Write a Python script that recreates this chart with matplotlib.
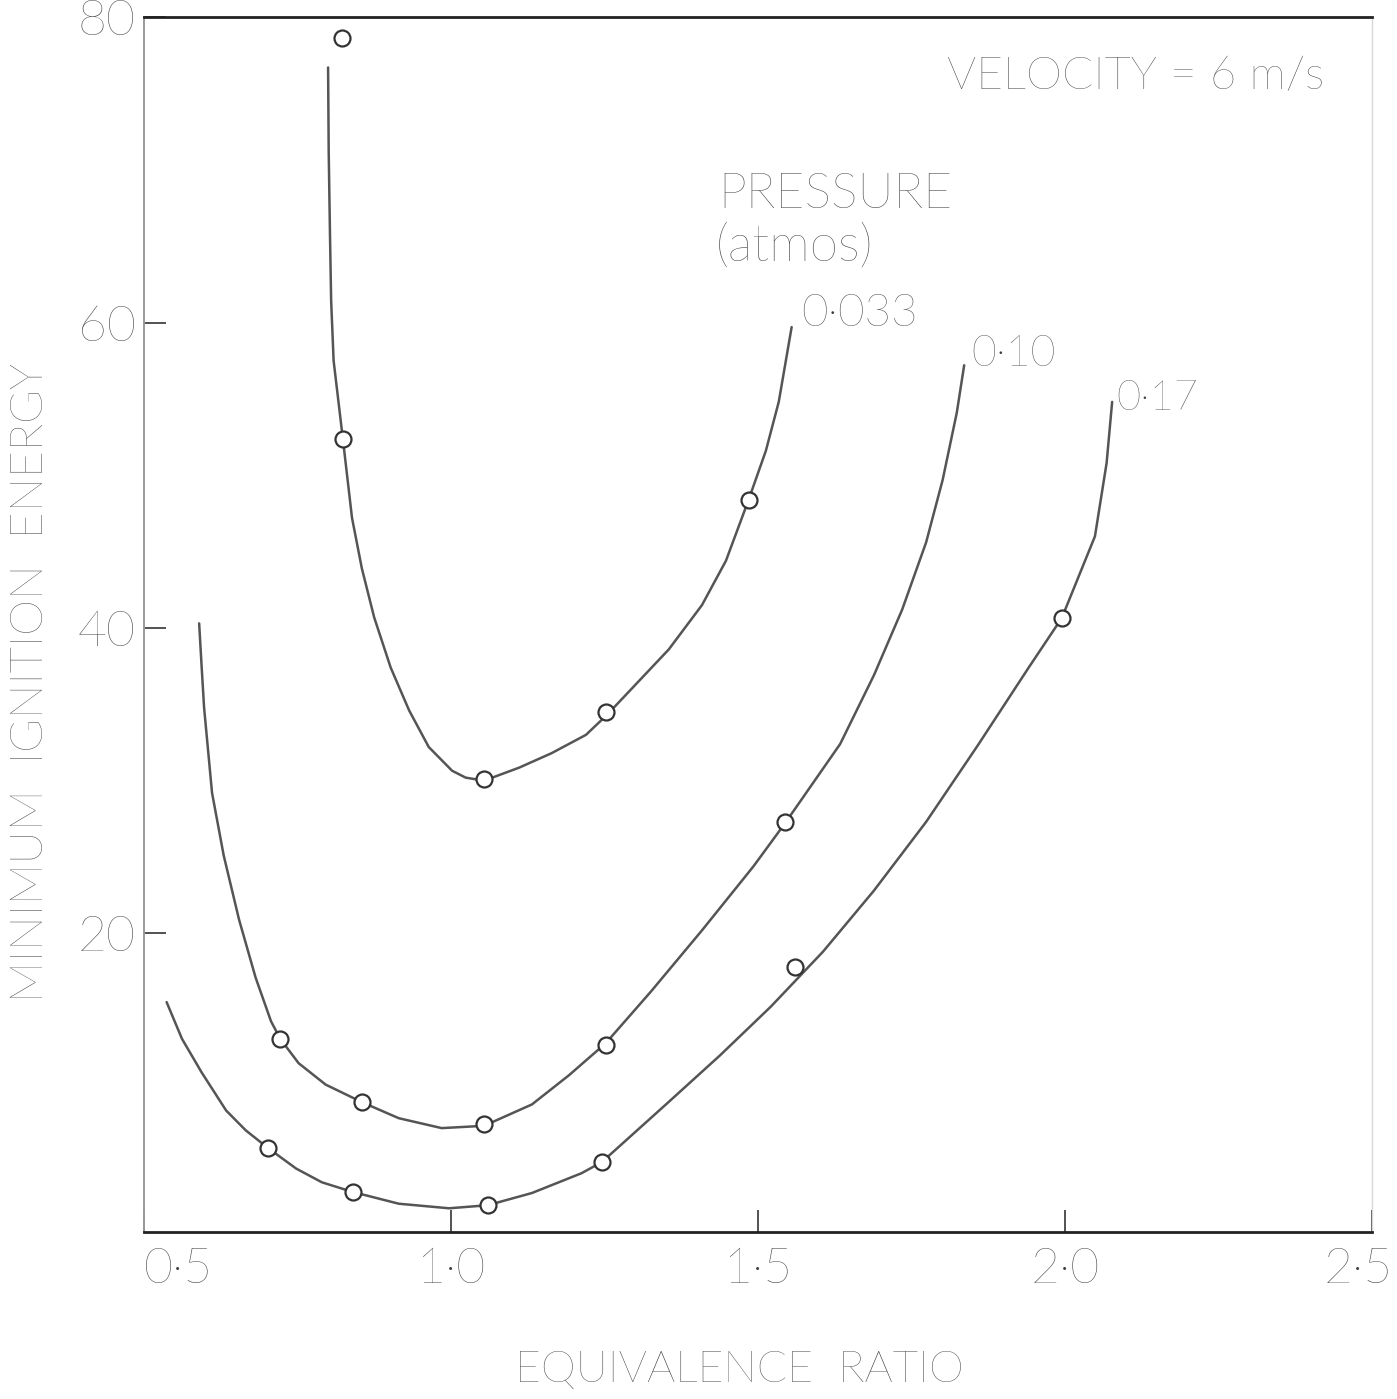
"""Minimum ignition energy vs equivalence ratio, three pressures (scanned chart redraw)."""
import matplotlib

matplotlib.use("Agg")
import matplotlib.pyplot as plt

# measured points (open circles)
p033_x = [0.822, 0.824, 1.054, 1.252, 1.485]
p033_y = [78.6, 52.4, 30.1, 34.5, 48.4]
p010_x = [0.722, 0.855, 1.054, 1.252, 1.544]
p010_y = [13.1, 8.95, 7.5, 12.7, 27.3]
p017_x = [0.702, 0.840, 1.060, 1.246, 1.995, 1.560]
p017_y = [5.95, 3.07, 2.22, 5.03, 40.65, 17.8]

# hand-drawn fitted curves
c033_x = [0.800, 0.801, 0.803, 0.805, 0.809, 0.824, 0.839, 0.855, 0.875,
          0.902, 0.932, 0.964, 1.002, 1.024, 1.054, 1.111, 1.164, 1.220, 1.254,
          1.301, 1.355, 1.409, 1.448, 1.485, 1.513, 1.534, 1.555]
c033_y = [76.7, 71.2, 66.0, 61.4, 57.5, 52.4, 47.2, 43.9, 40.7,
          37.4, 34.6, 32.2, 30.65, 30.2, 30.0, 30.85, 31.8, 33.0, 34.3,
          36.3, 38.6, 41.5, 44.4, 48.4, 51.6, 54.8, 59.7]
c010_x = [0.590, 0.594, 0.598, 0.611, 0.630, 0.655, 0.682, 0.707, 0.722, 0.752,
          0.796, 0.855, 0.915, 0.985, 1.054, 1.132, 1.192, 1.252, 1.326, 1.409,
          1.493, 1.544, 1.634, 1.689, 1.735, 1.774, 1.801, 1.824, 1.836]
c010_y = [40.3, 37.5, 34.8, 29.2, 25.1, 20.9, 17.1, 14.25, 13.1, 11.5,
          10.1, 8.95, 7.9, 7.25, 7.4, 8.8, 10.7, 12.8, 16.2, 20.2,
          24.4, 27.2, 32.4, 36.9, 41.2, 45.6, 49.7, 54.1, 57.2]
c017_x = [0.537, 0.562, 0.594, 0.634, 0.666, 0.702, 0.748, 0.790, 0.840, 0.915,
          0.997, 1.060, 1.132, 1.213, 1.246, 1.353, 1.438, 1.521, 1.606, 1.689,
          1.774, 1.858, 1.941, 1.995, 2.049, 2.068, 2.077]
c017_y = [15.5, 13.1, 10.9, 8.4, 7.1, 5.95, 4.6, 3.7, 3.07, 2.3,
          2.0, 2.2, 3.0, 4.3, 5.03, 8.9, 12.0, 15.2, 18.8, 22.8,
          27.3, 32.3, 37.4, 40.65, 46.0, 50.8, 54.8]

pressure_labels = ["0·033", "0·10", "0·17"]
x_ticks = [0.5, 1.0, 1.5, 2.0, 2.5]
x_ticklabels = ["0·5", "1·0", "1·5", "2·0", "2·5"]
y_ticks = [20, 40, 60, 80]

FONT = ["Lato", "DejaVu Sans"]
INK = "#555555"
TXT = "#3c3c3c"


def main():
    fig = plt.figure(figsize=(13.97, 13.99), dpi=100)
    ax = fig.add_axes([0.1030, 0.1194, 0.8790, 0.8684])

    curves = [(c033_x, c033_y, p033_x, p033_y),
              (c010_x, c010_y, p010_x, p010_y),
              (c017_x, c017_y, p017_x, p017_y)]
    for cx, cy, px, py in curves:
        ax.plot(cx, cy, color=INK, lw=1.8, solid_capstyle="round",
                solid_joinstyle="round", zorder=2)
        ax.plot(px, py, "o", ms=11.5, mfc="white", mec="#333333", mew=1.6,
                ls="none", zorder=3)

    ax.set_xlim(0.5, 2.5)
    ax.set_ylim(0.45, 80)
    ax.set_xticks(x_ticks)
    ax.set_xticklabels(x_ticklabels[:-1] + [""])
    ax.set_yticks(y_ticks)
    ax.tick_params(direction="in", length=16, width=1.3, color="#444444",
                   labelcolor=TXT, labelsize=36)
    ax.tick_params(axis="x", pad=11)
    ax.tick_params(axis="y", pad=6)
    for lab in ax.get_xticklabels() + ax.get_yticklabels():
        lab.set_family(FONT)
        lab.set_fontweight("light")
    ax.get_xticklabels()[0].set_horizontalalignment("left")
    # last x label sits at the very edge of the page; keep it just inside
    ax.text(2.478, -0.0123, x_ticklabels[-1], transform=ax.get_xaxis_transform(),
            ha="center", va="top", fontsize=36, family=FONT,
            fontweight="light", color=TXT)

    ax.spines["bottom"].set_color("#222222")
    ax.spines["bottom"].set_linewidth(2.0)
    ax.spines["top"].set_color("#222222")
    ax.spines["top"].set_linewidth(2.0)
    ax.spines["left"].set_color("#9a9a9a")
    ax.spines["left"].set_linewidth(1.4)
    ax.spines["right"].set_color("#d8d8d8")
    ax.spines["right"].set_linewidth(1.0)

    kw = dict(family=FONT, fontweight="light", color=TXT)
    ax.text(1.808, 76.1, "VELOCITY = 6 m/s", fontsize=33, va="center", ha="left", **kw)
    ax.text(1.436, 68.4, "PRESSURE", fontsize=36, va="center", ha="left", **kw)
    ax.text(1.432, 65.0, "(atmos)", fontsize=37, va="center", ha="left", **kw)
    label_pos = [(1.570, 60.6), (1.847, 57.9), (2.083, 55.0)]
    label_size = [33, 31, 30]
    for (lx, ly), txt, fs in zip(label_pos, pressure_labels, label_size):
        ax.text(lx, ly, txt, fontsize=fs, va="center", ha="left", **kw)

    fig.text(0.529, 0.0207, "EQUIVALENCE  RATIO", fontsize=32, ha="center",
             va="center", **kw)
    fig.text(0.0215, 0.5125, "MINIMUM  IGNITION  ENERGY", fontsize=33,
             rotation=90, ha="center", va="center", **kw)

    fig.savefig("out.png", dpi=100, facecolor="white")


if __name__ == "__main__":
    main()
